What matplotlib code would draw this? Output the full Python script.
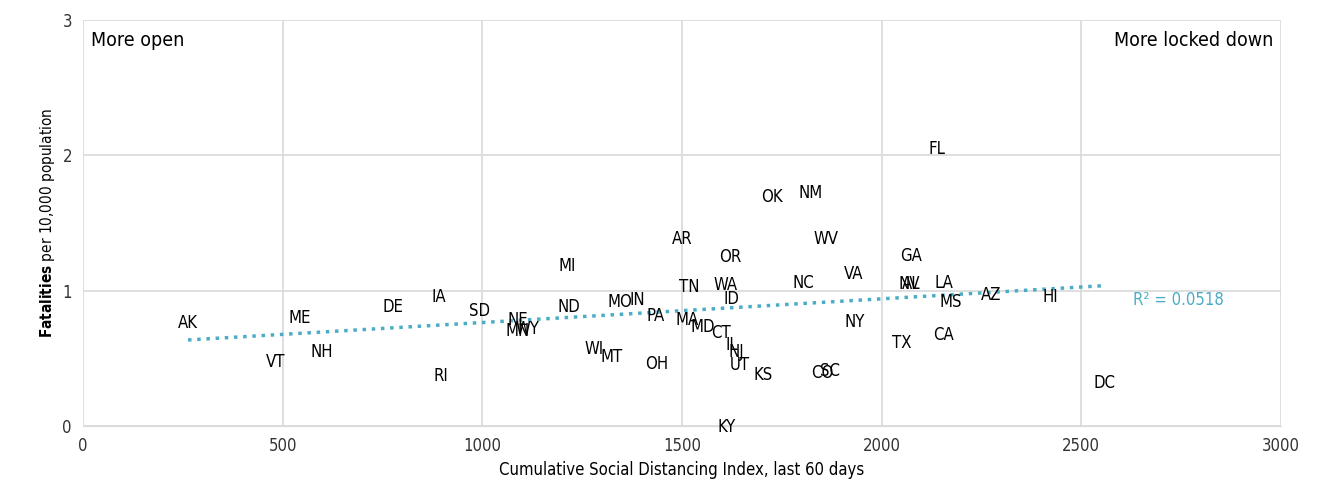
import numpy as np
import matplotlib.pyplot as plt

plt.rcParams['font.family'] = ['DejaVu Sans']
plt.rcParams['font.stretch'] = 'condensed'

states = ['AK', 'VT', 'ME', 'NH', 'DE', 'IA', 'RI', 'SD', 'NE', 'MN', 'WY', 'MI', 'ND',
          'WI', 'MT', 'MO', 'IN', 'PA', 'OH', 'AR', 'TN', 'MA', 'MD', 'OR', 'WA', 'ID',
          'CT', 'IL', 'NJ', 'UT', 'KY', 'KS', 'OK', 'NM', 'WV', 'NC', 'VA', 'NY', 'CO',
          'SC', 'GA', 'NV', 'AL', 'LA', 'MS', 'TX', 'CA', 'FL', 'AZ', 'HI', 'DC']
distancing = [263, 483, 543, 599, 776, 892, 897, 994, 1089, 1089, 1112, 1212, 1217,
              1280, 1325, 1345, 1388, 1435, 1437, 1500, 1518, 1513, 1553, 1620, 1610, 1625,
              1598, 1625, 1635, 1645, 1613, 1703, 1725, 1821, 1861, 1803, 1931, 1933, 1851,
              1871, 2074, 2069, 2074, 2156, 2174, 2051, 2156, 2139, 2274, 2422, 2559]
fatalities = [0.76, 0.47, 0.80, 0.55, 0.88, 0.95, 0.37, 0.85, 0.78, 0.70, 0.72, 1.18, 0.88,
              0.57, 0.51, 0.92, 0.93, 0.81, 0.46, 1.38, 1.03, 0.78, 0.73, 1.25, 1.04, 0.94,
              0.69, 0.60, 0.55, 0.45, -0.01, 0.38, 1.69, 1.72, 1.38, 1.06, 1.12, 0.77, 0.39,
              0.41, 1.26, 1.05, 1.05, 1.06, 0.92, 0.61, 0.67, 2.05, 0.97, 0.95, 0.32]

teal = '#4BACC6'
fig = plt.figure(figsize=(13.24, 4.91), dpi=100)
ax = fig.add_axes([0.0627, 0.1324, 0.9048, 0.8266])

for s, x, y in zip(states, distancing, fatalities):
    ax.text(x, y, s, ha='center', va='center', fontsize=12, color='black')

x = np.array(distancing, dtype=float)
y = np.array(fatalities)
m, b = np.polyfit(x, y, 1)
xs = np.array([x.min(), x.max()])
ax.plot(xs, m * xs + b + np.array([0, 0.02]), linestyle=':', color=teal, linewidth=2.5)
ax.text(2630, 0.93, 'R² = 0.0518', color=teal, fontsize=12, va='center')

ax.text(20, 2.85, 'More open', fontsize=14, va='center')
ax.text(2980, 2.85, 'More locked down', fontsize=14, va='center', ha='right')

ax.set_xlim(0, 3000)
ax.set_ylim(0, 3)
ax.set_xticks(range(0, 3001, 500))
ax.set_yticks([0, 1, 2, 3])
ax.grid(True, color='#d9d9d9', linewidth=1.2)
ax.set_axisbelow(True)
for sp in ['top', 'right', 'left']:
    ax.spines[sp].set_visible(False)
ax.spines['bottom'].set_color('#d9d9d9')
ax.tick_params(length=0, labelsize=12, colors='#333333', pad=8)
ax.set_xlabel('Cumulative Social Distancing Index, last 60 days', fontsize=12)
ax.set_ylabel(r'$\bf{Fatalities}$ per 10,000 population', fontsize=11)

fig.savefig('out.png', dpi=100)
